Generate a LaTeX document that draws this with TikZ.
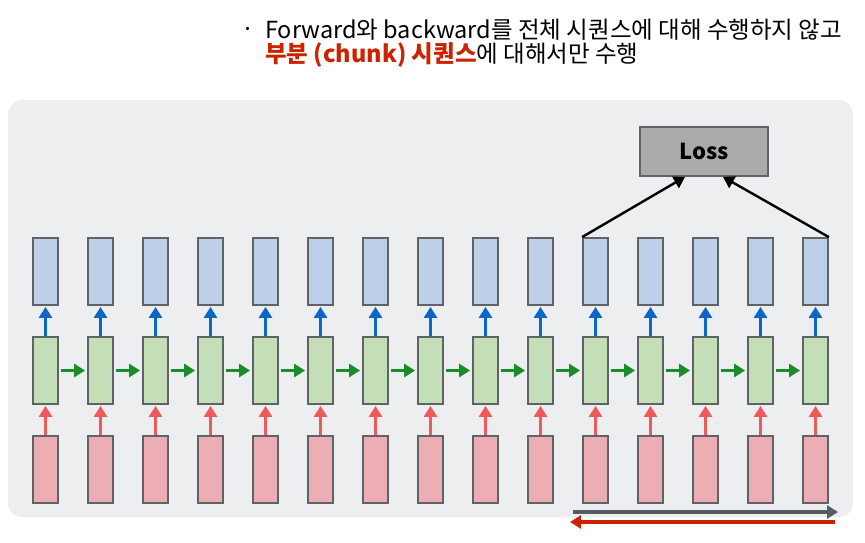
\documentclass[tikz,border=0pt]{standalone}
\usepackage{fontspec}
\setmainfont{Noto Sans CJK KR}
\usepackage{xcolor}
\usetikzlibrary{arrows.meta,positioning}
\definecolor{PANEL}{RGB}{237,238,240}
\definecolor{EDGE}{RGB}{95,99,102}
\definecolor{OUTFILL}{RGB}{189,208,231}
\definecolor{HIDFILL}{RGB}{196,223,184}
\definecolor{INFILL}{RGB}{237,173,180}
\definecolor{OUTARR}{RGB}{11,102,200}
\definecolor{HIDARR}{RGB}{26,140,42}
\definecolor{INARR}{RGB}{238,90,90}
\definecolor{LOSSFILL}{RGB}{169,171,169}
\definecolor{FWD}{RGB}{85,91,99}
\definecolor{BWD}{RGB}{204,34,0}

\begin{document}
\begin{tikzpicture}[x=1pt,y=-1pt,>={Triangle[length=11pt,width=13pt]}]
    \tikzset{cell/.style={draw=EDGE,line width=1.8pt,minimum width=25pt,minimum height=67pt,inner sep=0pt},
      up/.style={->,line width=3pt},
      head/.style={font=\fontsize{23.5}{27}\selectfont}}
    \useasboundingbox (0,0) rectangle (865,543);
    \fill[PANEL,rounded corners=14pt] (8,100) rectangle (853,517);
    % header text
    \node[anchor=base west,inner sep=0pt,head] (dot) at (241,38) {·};
    \node[anchor=base west,inner sep=0pt,head] (line1) at (265,39)
      {Forward와 backward를 전체 시퀀스에 대해 수행하지 않고};
    \node[anchor=base west,inner sep=0pt,head] (line2) at (265,63)
      {\textcolor{BWD}{\textbf{부분 (chunk) 시퀀스}}에 대해서만 수행};
    % unrolled cells
    \foreach \i in {1,...,15} {
      \node[cell,fill=OUTFILL] (y\i) at ({45.5+55*(\i-1)},271.5) {};
      \node[cell,fill=HIDFILL] (h\i) at ({45.5+55*(\i-1)},370.5) {};
      \node[cell,fill=INFILL] (x\i) at ({45.5+55*(\i-1)},469.5) {};
      \draw[up,INARR] (x\i.north)--([yshift=-1pt]h\i.south);
      \draw[up,OUTARR] (h\i.north)--([yshift=-1pt]y\i.south);
    }
    \foreach \i [evaluate=\i as \j using int(\i+1)] in {1,...,14}
      \draw[up,HIDARR] ([xshift=2pt]h\i.east)--([xshift=-2pt]h\j.west);
    % loss
    \node[draw=EDGE,line width=1.8pt,fill=LOSSFILL,minimum width=128pt,minimum height=49pt,
      font=\fontsize{22}{26}\selectfont\bfseries] (loss) at (704,151.5) {Loss};
    \draw[->,line width=2.4pt] (y11.north west)--([xshift=-19pt]loss.south);
    \draw[->,line width=2.4pt] (y15.north east)--([xshift=19pt]loss.south);
    % forward / backward span
    \coordinate (fs) at (573,512); \coordinate (fe) at (838,512);
    \coordinate (bs) at (835,522); \coordinate (be) at (570,522);
    \draw[->,FWD,line width=3.5pt] (fs)--(fe);
    \draw[->,BWD,line width=3.5pt] (bs)--(be);
\end{tikzpicture}
\end{document}
